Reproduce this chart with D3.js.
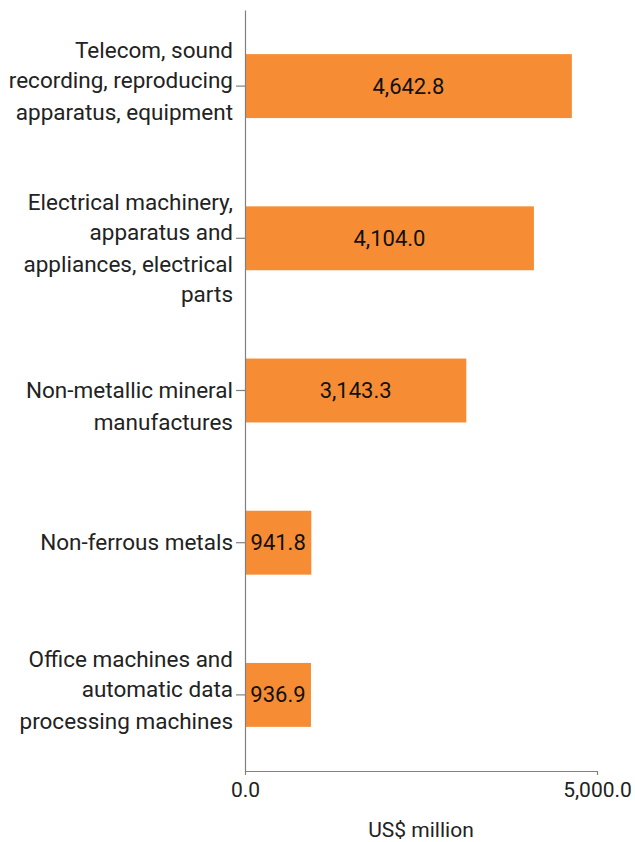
<!DOCTYPE html>
<html>
<head>
<meta charset="utf-8">
<script src="https://cdn.jsdelivr.net/npm/d3@7"></script>
<style>
  html, body { margin: 0; padding: 0; background: #fff; }
  svg { display: block; font-family: Roboto, "Noto Sans", sans-serif; }
</style>
</head>
<body>
<svg id="chart" width="635" height="842"></svg>
<script>
// Export categories and their values (US$ million)
const categories = [
  "Telecom, sound recording, reproducing apparatus, equipment",
  "Electrical machinery, apparatus and appliances, electrical parts",
  "Non-metallic mineral manufactures",
  "Non-ferrous metals",
  "Office machines and automatic data processing machines"
];
const values = [4642.8, 4104.0, 3143.3, 941.8, 936.9];
const xTicks = [0, 5000];
const xTitle = "US$ million";

const data = categories.map((c, i) => ({ category: c, value: values[i] }));

const svg = d3.select("#chart");
const margin = { top: 10, right: 38, bottom: 71, left: 245 };
const width = 635 - margin.left - margin.right;
const height = 842 - margin.top - margin.bottom;

const g = svg.append("g").attr("transform", `translate(${margin.left},${margin.top})`);

const x = d3.scaleLinear().domain([0, 5000]).range([0, width]);
const y = d3.scaleBand()
  .domain(categories)
  .range([0, height])
  .paddingInner(0.58)
  .paddingOuter(0.29);

const fmt = d3.format(",.1f");
const axisColor = "#808080";
const textColor = "#222";

// Bars
g.selectAll("rect.bar")
  .data(data)
  .join("rect")
  .attr("class", "bar")
  .attr("x", x(0))
  .attr("y", d => y(d.category))
  .attr("width", d => x(d.value) - x(0))
  .attr("height", y.bandwidth())
  .attr("fill", "#f68d34");

// Value labels centred in each bar
g.selectAll("text.value")
  .data(data)
  .join("text")
  .attr("class", "value")
  .attr("x", d => (x(0) + x(d.value)) / 2)
  .attr("y", d => y(d.category) + y.bandwidth() / 2)
  .attr("dy", "0.34em")
  .attr("text-anchor", "middle")
  .attr("font-size", 22)
  .attr("fill", "#111")
  .text(d => fmt(d.value));

// Y axis with wrapped category labels
const yAxis = g.append("g")
  .call(d3.axisLeft(y).tickSize(9).tickSizeOuter(0).tickPadding(3));
yAxis.select(".domain").attr("stroke", axisColor).attr("stroke-width", 1.2);
yAxis.selectAll(".tick line").attr("stroke", axisColor).attr("stroke-width", 1.2);

const maxLabelWidth = 234;
const lineHeight = 30;
yAxis.selectAll(".tick text")
  .attr("font-size", 22.5)
  .attr("font-family", "Roboto, 'Noto Sans', sans-serif")
  .attr("fill", textColor)
  .each(function (d) {
    const text = d3.select(this);
    const words = d.split(/\s+/);
    text.text(null);
    const lines = [];
    let line = [];
    const probe = text.append("tspan");
    words.forEach(w => {
      const trial = line.concat(w).join(" ");
      probe.text(trial);
      if (line.length && probe.node().getComputedTextLength() > maxLabelWidth) {
        lines.push(line.join(" "));
        line = [w];
      } else {
        line.push(w);
      }
    });
    lines.push(line.join(" "));
    probe.remove();
    const k = Math.floor((lines.length - 1) / 2);
    const x0 = text.attr("x");
    text.attr("dy", null).attr("y", 0);
    lines.forEach((ln, i) => {
      text.append("tspan")
        .attr("x", x0)
        .attr("y", 7 + (i - k) * lineHeight - k * 5 + (i > k ? 2 : 0))
        .text(ln);
    });
  });

// X axis
const xAxis = g.append("g")
  .attr("transform", `translate(0,${height})`)
  .call(d3.axisBottom(x).tickValues(xTicks).tickFormat(fmt).tickSize(4).tickSizeOuter(0).tickPadding(7));
xAxis.select(".domain").attr("stroke", axisColor).attr("stroke-width", 1.2);
xAxis.selectAll(".tick line").attr("stroke", axisColor).attr("stroke-width", 1.2);
xAxis.selectAll(".tick text")
  .attr("font-size", 21)
  .attr("font-family", "Roboto, 'Noto Sans', sans-serif")
  .attr("fill", textColor);

// X axis title
g.append("text")
  .attr("x", width / 2)
  .attr("y", height + 66)
  .attr("text-anchor", "middle")
  .attr("font-size", 21)
  .attr("fill", textColor)
  .text(xTitle);
</script>
</body>
</html>
